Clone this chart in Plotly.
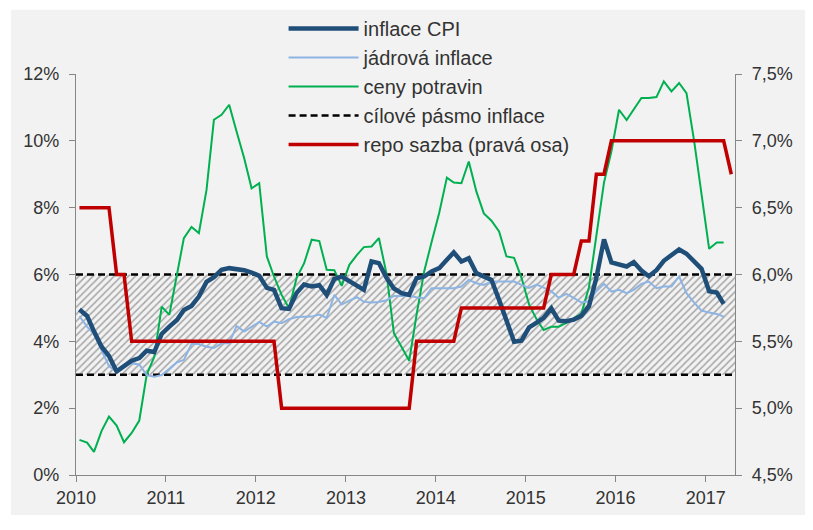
import plotly.graph_objects as go
import pandas as pd

# monthly observations, plotted mid-month (Jan 2010 onwards)
cpi = [4.95, 4.76, 4.30, 3.84, 3.56, 3.10, 3.26, 3.42, 3.50, 3.72, 3.68, 4.22,
       4.44, 4.64, 4.94, 5.06, 5.34, 5.78, 5.92, 6.14, 6.19, 6.17, 6.13, 6.06,
       5.96, 5.60, 5.54, 4.99, 4.97, 5.45, 5.70, 5.64, 5.68, 5.39, 5.87, 5.94,
       5.80, 5.64, 5.54, 6.39, 6.34, 5.90, 5.58, 5.44, 5.39, 5.89, 5.94, 6.09,
       6.19, 6.44, 6.66, 6.39, 6.49, 6.04, 5.94, 5.84, 5.24, 4.64, 3.99, 4.02,
       4.42, 4.56, 4.70, 4.99, 4.62, 4.60, 4.65, 4.76, 5.05, 5.90, 7.05, 6.36,
       6.30, 6.24, 6.37, 6.12, 5.95, 6.13, 6.41, 6.60, 6.75, 6.62, 6.38, 6.17,
       5.50, 5.46, 5.12]

core = [4.75, 4.44, 4.21, 3.74, 3.26, 3.09, 3.28, 3.34, 3.31, 2.99, 2.94, 2.99,
        3.19, 3.37, 3.44, 3.92, 3.92, 3.84, 3.80, 3.94, 3.94, 4.46, 4.29, 4.44,
        4.58, 4.44, 4.59, 4.54, 4.66, 4.73, 4.74, 4.74, 4.80, 4.70, 5.39, 5.10,
        5.22, 5.32, 5.18, 5.16, 5.18, 5.23, 5.36, 5.36, 5.36, 5.32, 5.29, 5.59,
        5.59, 5.59, 5.59, 5.64, 5.84, 5.74, 5.69, 5.79, 5.79, 5.79, 5.79, 5.69,
        5.60, 5.70, 5.60, 5.50, 5.30, 5.42, 5.30, 5.16, 5.20, 5.50, 5.72, 5.49,
        5.54, 5.44, 5.54, 5.72, 5.79, 5.59, 5.64, 5.64, 5.94, 5.44, 5.16, 4.92,
        4.86, 4.82, 4.74]

food = [1.05, 0.97, 0.69, 1.32, 1.75, 1.48, 0.98, 1.26, 1.63, 3.00, 3.54, 5.04,
        4.79, 6.02, 7.09, 7.42, 7.24, 8.53, 10.63, 10.78, 11.08, 10.28, 9.48, 8.58,
        8.73, 6.54, 5.94, 5.39, 4.99, 5.90, 6.33, 7.04, 7.00, 6.14, 6.13, 5.66,
        6.29, 6.59, 6.82, 6.84, 7.09, 6.02, 4.24, 3.83, 3.42, 4.80, 6.10, 6.97,
        7.85, 8.90, 8.75, 8.73, 9.38, 8.48, 7.83, 7.61, 7.29, 6.54, 6.50, 5.90,
        5.10, 4.65, 4.34, 4.44, 4.44, 4.55, 4.68, 4.83, 5.62, 7.10, 8.75, 9.68,
        10.93, 10.62, 10.93, 11.28, 11.28, 11.31, 11.78, 11.48, 11.73, 11.43, 10.00, 8.43,
        6.77, 6.96, 6.96]

repo = [6.5, 6.5, 6.5, 6.5, 6.5, 6.0, 6.0, 5.5, 5.5, 5.5, 5.5, 5.5,
        5.5, 5.5, 5.5, 5.5, 5.5, 5.5, 5.5, 5.5, 5.5, 5.5, 5.5, 5.5,
        5.5, 5.5, 5.5, 5.0, 5.0, 5.0, 5.0, 5.0, 5.0, 5.0, 5.0, 5.0,
        5.0, 5.0, 5.0, 5.0, 5.0, 5.0, 5.0, 5.0, 5.0, 5.5, 5.5, 5.5,
        5.5, 5.5, 5.5, 5.75, 5.75, 5.75, 5.75, 5.75, 5.75, 5.75, 5.75, 5.75,
        5.75, 5.75, 5.75, 6.0, 6.0, 6.0, 6.0, 6.25, 6.25, 6.75, 6.75, 7.0,
        7.0, 7.0, 7.0, 7.0, 7.0, 7.0, 7.0, 7.0, 7.0, 7.0, 7.0, 7.0,
        7.0, 7.0, 7.0, 6.75]

months = pd.date_range("2010-01-01", periods=len(repo), freq="MS") + pd.Timedelta(days=14)

# target band
band_low, band_high = 3, 6
band_start, band_end = "2010-01-01", "2017-04-30"

FONT = "Liberation Sans, Arial, sans-serif"
TEXT = "#333333"
AXIS = "#868686"
BG = "#f2f2f2"

fig = go.Figure()

# hatched band (no legend entry)
fig.add_trace(go.Scatter(
    x=[band_start, band_end, band_end, band_start],
    y=[band_low, band_low, band_high, band_high],
    fill="toself", mode="none", showlegend=False, hoverinfo="skip",
    fillpattern=dict(shape="/", fgcolor="#595959", bgcolor=BG, size=5, solidity=0.3),
))

fig.add_trace(go.Scatter(
    x=[band_start, band_end, None, band_start, band_end],
    y=[band_high, band_high, None, band_low, band_low],
    mode="lines", name="cílové pásmo inflace", legendrank=4,
    line=dict(color="black", width=2.5, dash="7px,4px"),
))

fig.add_trace(go.Scatter(
    x=months[:len(food)], y=food, mode="lines", name="ceny potravin", legendrank=3,
    line=dict(color="#00b050", width=2),
))
fig.add_trace(go.Scatter(
    x=months[:len(core)], y=core, mode="lines", name="jádrová inflace", legendrank=2,
    line=dict(color="#8db4e2", width=2),
))
fig.add_trace(go.Scatter(
    x=months[:len(cpi)], y=cpi, mode="lines", name="inflace CPI", legendrank=1,
    line=dict(color="#1f4e79", width=4.5),
))
fig.add_trace(go.Scatter(
    x=months, y=repo, mode="lines", name="repo sazba (pravá osa)", legendrank=5,
    yaxis="y2", line=dict(color="#c00000", width=3.5),
))

axis_common = dict(
    showgrid=False, zeroline=False, showline=True, linecolor=AXIS, linewidth=1.3,
    ticks="outside", ticklen=6, tickcolor=AXIS, tickwidth=1.3,
    tickfont=dict(family=FONT, size=18, color=TEXT),
)

# the page adds an 8px body margin, so the figure is 8px smaller than the window
fig.update_layout(
    width=805, height=522,
    margin=dict(l=68, r=78, t=66, b=55, autoexpand=False),
    paper_bgcolor="white",
    plot_bgcolor="rgba(0,0,0,0)",
    separators=", ",
    font=dict(family=FONT, size=18, color=TEXT),
    xaxis=dict(
        **axis_common, type="date", range=[band_start, band_end],
        tick0="2010-01-01", dtick="M12", tickformat="%Y",
    ),
    yaxis=dict(**axis_common, range=[0, 12], dtick=2, ticksuffix="%",
               ticklabelstandoff=6),
    yaxis2=dict(**axis_common, range=[4.5, 7.5], dtick=0.5, tickformat=".1f",
                ticksuffix="%", overlaying="y", side="right", ticklabelstandoff=6),
    legend=dict(
        x=0.315, y=1.162, xanchor="left", yanchor="top",
        bgcolor="rgba(0,0,0,0)", font=dict(family=FONT, size=20, color=TEXT),
        itemwidth=70, tracegroupgap=0,
    ),
    shapes=[dict(
        type="rect", xref="paper", yref="paper", layer="below",
        x0=-0.0986, x1=1.2, y0=-0.1, y1=1.16,
        fillcolor=BG, line=dict(width=0),
    )],
)

fig.write_html("out.html")
